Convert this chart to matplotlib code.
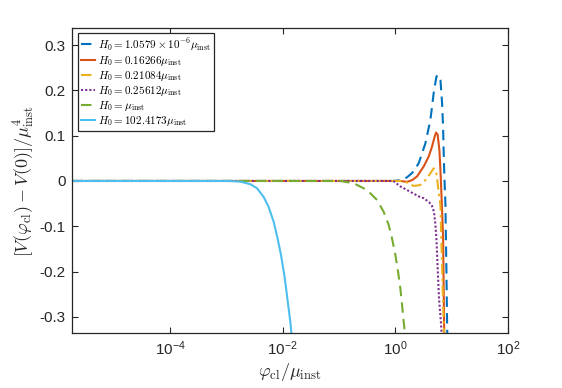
import matplotlib

matplotlib.use("Agg")
import matplotlib.pyplot as plt  # noqa: E402
import numpy as np  # noqa: E402

# log10(phi_cl / mu_inst) and potential difference
XMIN_LOG = -5.73

blue_logx = [-5.73, -0.036, 0.10, 0.207, 0.30, 0.414, 0.533, 0.622, 0.68, 0.728, 0.751,
             0.80, 0.829, 0.847, 0.858, 0.87, 0.888, 0.906, 0.918, 0.925]
blue_v = [0.0, 0.0, 0.002, 0.008, 0.018, 0.039, 0.083, 0.135, 0.194, 0.230, 0.234,
          0.223, 0.172, 0.120, 0.061, 0.009, -0.049, -0.196, -0.313, -0.36]

orange_logx = [-5.73, 0.089, 0.207, 0.30, 0.385, 0.503, 0.592, 0.651, 0.698, 0.723, 0.751,
               0.782, 0.80, 0.817, 0.832, 0.847, 0.865, 0.872]
orange_v = [0.0, 0.0, -0.002, 0.002, 0.010, 0.032, 0.054, 0.076, 0.098, 0.107, 0.102,
            0.068, 0.024, -0.027, -0.075, -0.123, -0.314, -0.36]

yellow_logx = [-5.73, 0.15, 0.326, 0.444, 0.533, 0.622, 0.68, 0.723, 0.751, 0.77, 0.787,
               0.80, 0.823, 0.847, 0.858, 0.865]
yellow_v = [0.0, 0.0, -0.011, -0.009, 0.002, 0.017, 0.028, 0.021, -0.005, -0.027, -0.040,
            -0.055, -0.16, -0.27, -0.313, -0.36]

purple_logx = [-5.73, -0.036, 0.089, 0.266, 0.444, 0.503, 0.60, 0.65, 0.685, 0.71, 0.73,
               0.75, 0.775, 0.81, 0.83]
purple_v = [0.0, 0.0, -0.012, -0.024, -0.036, -0.038, -0.047, -0.055, -0.068, -0.095, -0.130,
            -0.190, -0.26, -0.314, -0.36]

green_logx = [-5.73, -0.98, -0.74, -0.503, -0.325, -0.208, -0.119, -0.059, 0.0, 0.048,
              0.089, 0.119, 0.147, 0.16, 0.175]
green_v = [0.0, 0.0, -0.005, -0.020, -0.042, -0.068, -0.097, -0.127, -0.163, -0.200,
           -0.237, -0.274, -0.310, -0.325, -0.36]

cyan_logx = [-5.73, -2.95, -2.88, -2.753, -2.575, -2.456, -2.339, -2.25, -2.16, -2.09,
             -2.03, -1.97, -1.924, -1.895, -1.865, -1.847, -1.835]
cyan_v = [0.0, 0.0, -0.0005, -0.0015, -0.007, -0.016, -0.035, -0.057, -0.090, -0.127,
          -0.163, -0.208, -0.252, -0.281, -0.310, -0.333, -0.36]

labels = [
    r"$H_0 = 1.0579\times10^{-6}\mu_{\rm inst}$",
    r"$H_0 = 0.16266\mu_{\rm inst}$",
    r"$H_0 = 0.21084\mu_{\rm inst}$",
    r"$H_0 = 0.25612\mu_{\rm inst}$",
    r"$H_0 = \mu_{\rm inst}$",
    r"$H_0 = 102.4173\mu_{\rm inst}$",
]

plt.rcParams.update(
    {
        "font.family": "Liberation Sans",
        "mathtext.fontset": "cm",
        "axes.unicode_minus": False,
        "xtick.direction": "in",
        "ytick.direction": "in",
        "xtick.top": True,
        "ytick.right": True,
        "axes.edgecolor": "#262626",
        "xtick.color": "#262626",
        "ytick.color": "#262626",
    }
)

fig = plt.figure(figsize=(5.62, 3.88), dpi=100)
ax = fig.add_axes([0.129, 0.1425, 0.775, 0.7845])

series = [
    (blue_logx, blue_v, "#0072BD", (0, (5, 3))),
    (orange_logx, orange_v, "#D95319", "-"),
    (yellow_logx, yellow_v, "#EDB120", (0, (5, 2, 1.2, 2))),
    (purple_logx, purple_v, "#7E2F8E", (0, (1, 1))),
    (green_logx, green_v, "#77AC30", (0, (5, 3))),
    (cyan_logx, cyan_v, "#4DBEEE", "-"),
]
for (lx, v, color, ls), label in zip(series, labels):
    ax.plot(10 ** np.asarray(lx), v, color=color, linestyle=ls, linewidth=1.5, label=label)

ax.set_xscale("log")
ax.set_xlim(10 ** XMIN_LOG, 1e2)
ax.set_ylim(-0.335, 0.337)
ax.set_xticks([1e-4, 1e-2, 1e0, 1e2])
ax.minorticks_off()
ax.set_yticks([-0.3, -0.2, -0.1, 0, 0.1, 0.2, 0.3])
ax.set_yticklabels(["-0.3", "-0.2", "-0.1", "0", "0.1", "0.2", "0.3"])
ax.tick_params(labelsize=11, length=4, width=0.8, pad=5)
for spine in ax.spines.values():
    spine.set_linewidth(0.9)

ax.set_xlabel(r"$\varphi_{\rm cl}/\mu_{\rm inst}$", fontsize=13, labelpad=2, color="#262626")
ax.set_ylabel(r"$[V(\varphi_{\rm cl})-V(0)]/\mu_{\rm inst}^4$", fontsize=13, labelpad=2, color="#262626")

leg = ax.legend(
    loc="upper left",
    bbox_to_anchor=(0.012, 0.984),
    borderaxespad=0,
    fontsize=8,
    handlelength=1.3,
    handletextpad=0.3,
    labelspacing=0.1,
    borderpad=0.25,
    fancybox=False,
    framealpha=1,
    edgecolor="#262626",
)
leg.get_frame().set_linewidth(0.9)

fig.savefig("out.png", dpi=100)
